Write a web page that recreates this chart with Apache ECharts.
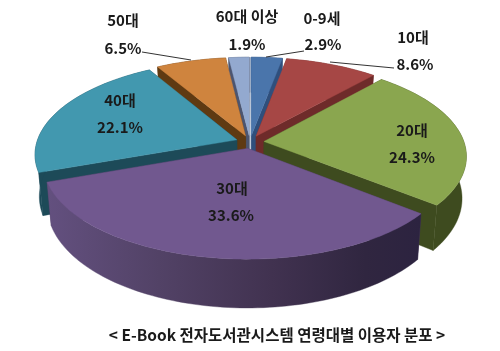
<!DOCTYPE html>
<html>
<head>
<meta charset="utf-8">
<style>html,body{margin:0;padding:0;background:#fff}#main{width:500px;height:351px}</style>
<script src="https://cdn.jsdelivr.net/npm/echarts@6/dist/echarts.min.js"></script>
</head>
<body>
<div id="main"></div>
<script>
// 데이터
var categories = ['0-9세', '10대', '20대', '30대', '40대', '50대', '60대 이상'];
var shares = [2.9, 8.6, 24.3, 33.6, 22.1, 6.5, 1.9];
var chartTitle = '< E-Book 전자도서관시스템 연령대별 이용자 분포 >';

// 색상
var topColors = ['#4a75ab', '#a64745', '#8aa64f', '#71588f', '#4298af', '#cf843e', '#93a9cf'];
var sideColors = ['#2f4f7c', '#6e2b2a', '#3e4b1f', '#4f3d63', '#1d4a58', '#5f3a12', '#4c5570'];

// 라벨 위치: [이름x, 이름y, 값x, 값y]
var labelSpots = [
	[322, 18, 323, 44],
	[413, 37, 415, 64],
	[412, 130, 412, 157],
	[232, 188, 231, 215],
	[120, 100, 120, 127],
	[123, 20, 123, 48],
	[247, 16, 247, 44]
];
// 지시선
var leaders = [
	[[304, 51], [266, 57]],
	[[394, 68], [330, 62]],
	null, null, null,
	[[142, 52], [191, 60]],
	null
];

// 3D 투영 파라미터
var cx = 250, cy = 142, rx = 200, ry = 92, persp = 0.15, explode = 0.07, depth = 41, shrink = 0.98;

function project(u, v, isBottom) {
	var s = 1 / (1 + persp * v);
	var x = rx * u * s;
	var y = -ry * v * s;
	if (isBottom) {
		return [cx + x * shrink, cy + y + depth * s];
	}
	return [cx + x, cy + y];
}

var total = 0;
for (var i = 0; i < shares.length; i++) {
	total += shares[i];
}

// 각 조각의 시작/끝 각도 (12시 방향부터 시계방향)
var slices = [];
var acc = 0;
for (var i = 0; i < shares.length; i++) {
	var a0 = acc / total * Math.PI * 2;
	acc += shares[i];
	var a1 = acc / total * Math.PI * 2;
	slices.push({ index: i, a0: a0, a1: a1, mid: (a0 + a1) / 2 });
}

// 뒤쪽 조각부터 그린다
var order = slices.slice().sort(function(p, q) {
	return Math.cos(q.mid) - Math.cos(p.mid);
});

function polygon(points, fill, z2) {
	return { type: 'polygon', z2: z2, shape: { points: points }, style: { fill: fill, stroke: fill, lineWidth: 0.4 } };
}

function textItem(text, x, y) {
	return {
		type: 'text',
		z2: 50,
		style: {
			text: text, x: x, y: y, align: 'center', verticalAlign: 'middle',
			fill: '#1a1a1a', font: 'bold 15px "Noto Sans CJK KR", sans-serif'
		}
	};
}

function renderSlice(params, api) {
	var sl = slices[api.value(0)];
	var i = sl.index;
	var ox = explode * Math.sin(sl.mid);
	var oy = explode * Math.cos(sl.mid);
	var steps = Math.max(6, Math.round((sl.a1 - sl.a0) * 40));
	var topArc = [], botArc = [];
	for (var k = 0; k <= steps; k++) {
		var a = sl.a0 + (sl.a1 - sl.a0) * k / steps;
		topArc.push(project(ox + Math.sin(a), oy + Math.cos(a), false));
		botArc.push(project(ox + Math.sin(a), oy + Math.cos(a), true));
	}
	var apexTop = project(ox, oy, false);
	var apexBot = project(ox, oy, true);

	var wallFill = sideColors[i];
	if (categories[i] === '30대') {
		wallFill = new echarts.graphic.LinearGradient(0, 0, 1, 0, [
			{ offset: 0, color: '#63507f' },
			{ offset: 0.3, color: '#524266' },
			{ offset: 0.6, color: '#413250' },
			{ offset: 0.85, color: '#302640' },
			{ offset: 1, color: '#2c2340' }
		]);
	}

	var children = [];
	// 절단면
	children.push(polygon([apexTop, topArc[0], botArc[0], apexBot], sideColors[i], 1));
	children.push(polygon([apexTop, topArc[steps], botArc[steps], apexBot], sideColors[i], 1));
	// 바깥 벽
	children.push(polygon(topArc.concat(botArc.slice().reverse()), wallFill, 2));
	// 윗면
	children.push(polygon([apexTop].concat(topArc), topColors[i], 3));

	// 지시선
	if (leaders[i]) {
		children.push({
			type: 'polyline',
			z2: 40,
			shape: { points: leaders[i] },
			style: { stroke: '#333', lineWidth: 1, fill: null }
		});
	}
	// 라벨
	var spot = labelSpots[i];
	children.push(textItem(categories[i], spot[0], spot[1]));
	children.push(textItem(shares[i].toFixed(1) + '%', spot[2], spot[3]));

	return { type: 'group', children: children };
}

var seriesData = [];
for (var i = 0; i < order.length; i++) {
	seriesData.push([order[i].index, shares[order[i].index]]);
}

var myChart = echarts.init(document.getElementById('main'), null, { renderer: 'canvas' });
var option = {
	animation: false,
	backgroundColor: '#fff',
	title: {
		text: chartTitle,
		left: 272,
		top: 322,
		textAlign: 'center',
		textStyle: {
			fontFamily: '"Noto Sans CJK KR", sans-serif',
			fontSize: 15.5,
			fontWeight: 'bold',
			color: '#1a1a1a'
		}
	},
	series: [{
		type: 'custom',
		coordinateSystem: 'none',
		renderItem: renderSlice,
		data: seriesData
	}]
};
myChart.setOption(option);
</script>
</body>
</html>
